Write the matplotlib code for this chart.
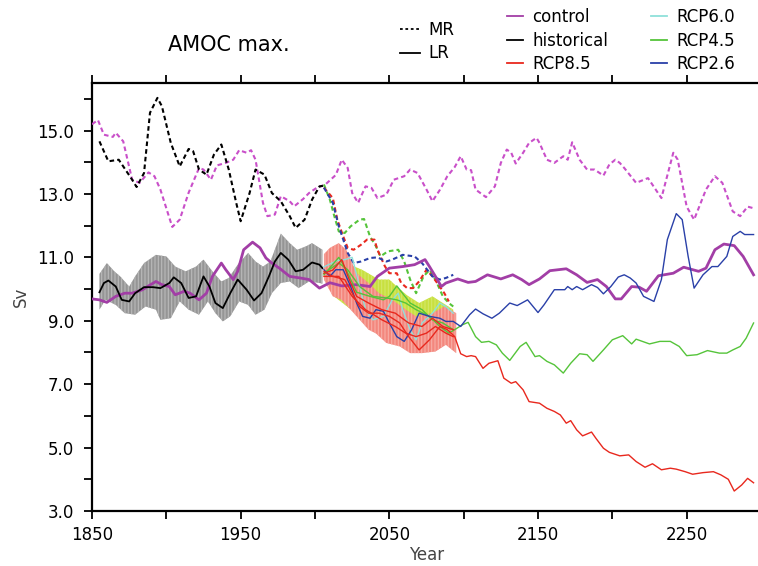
import matplotlib
matplotlib.use("Agg")
from matplotlib import pyplot as plt
from matplotlib.lines import Line2D
from matplotlib.ticker import MultipleLocator, FormatStrFormatter

# ---- data (years, Sv) ----
ctrl_mr_years = [1850, 1854, 1858, 1864, 1866, 1871, 1877, 1882, 1888, 1892, 1896, 1901, 1904, 1909, 1915,
                 1922, 1925, 1930, 1934, 1940, 1945, 1949, 1954, 1957, 1960, 1965, 1968, 1973, 1977, 1983,
                 1986, 1992, 1996, 2001, 2007, 2014, 2018, 2022, 2025, 2029, 2034, 2038, 2042, 2048, 2053,
                 2060, 2064, 2069, 2075, 2079, 2084, 2089, 2094, 2098, 2102, 2105, 2108, 2115, 2121, 2125,
                 2129, 2132, 2135, 2140, 2144, 2149, 2151, 2156, 2161, 2167, 2170, 2173, 2178, 2183, 2188,
                 2194, 2198, 2202, 2205, 2208, 2216, 2224, 2233, 2241, 2244, 2250, 2255, 2263, 2269, 2274,
                 2281, 2286, 2291, 2295]
ctrl_mr = [15.2, 15.33, 14.87, 14.8, 14.93, 14.66, 13.45, 13.35, 13.68, 13.56, 13.14, 12.4, 11.96, 12.19, 13.04,
           13.82, 13.77, 13.45, 13.9, 13.98, 14.08, 14.38, 14.3, 14.38, 14.08, 12.72, 12.3, 12.35, 12.93, 12.77,
           12.61, 12.84, 13.03, 13.19, 13.3, 13.6, 14.08, 13.82, 13.03, 12.72, 13.24, 13.19, 12.87, 12.98, 13.45,
           13.56, 13.77, 13.66, 13.14, 12.77, 13.13, 13.56, 13.85, 14.19, 13.77, 13.75, 13.14, 12.9, 13.24, 13.98,
           14.4, 14.3, 13.96, 14.3, 14.61, 14.77, 14.61, 14.08, 13.98, 14.19, 14.08, 14.63, 14.08, 13.77, 13.77,
           13.58, 13.93, 14.08, 13.98, 13.82, 13.35, 13.5, 12.87, 14.3, 14.08, 12.6, 12.19, 13.14, 13.56, 13.35,
           12.45, 12.3, 12.6, 12.55]

hist_mr_years = [1855, 1861, 1868, 1877, 1880, 1885, 1889, 1894, 1897, 1903, 1909, 1915, 1918, 1922, 1927,
                 1932, 1937, 1942, 1947, 1950, 1956, 1960, 1966, 1971, 1977, 1983, 1987, 1993, 1998, 2003, 2006]
hist_mr = [14.66, 14.03, 14.08, 13.45, 13.22, 13.66, 15.56, 16.03, 15.77, 14.61, 13.87, 14.42, 14.35, 13.77, 13.61,
           14.24, 14.56, 13.77, 12.72, 12.14, 13.03, 13.77, 13.61, 13.03, 12.77, 12.3, 11.93, 12.19, 12.82, 13.24, 13.26]

rcp45_mr_years = [2006, 2010, 2013, 2016, 2020, 2024, 2030, 2033, 2037, 2041, 2044, 2049, 2056, 2060, 2064,
                  2068, 2073, 2077, 2081, 2086, 2090, 2093]
rcp45_mr = [13.3, 12.82, 12.3, 11.82, 11.77, 11.98, 12.19, 12.21, 11.66, 11.35, 11.03, 11.19, 11.24, 10.87, 10.3,
            9.87, 10.4, 10.6, 10.3, 9.77, 9.56, 9.45]
rcp26_mr_years = [2006, 2012, 2016, 2019, 2022, 2026, 2031, 2037, 2042, 2048, 2052, 2059, 2067, 2072, 2079,
                  2084, 2088, 2093]
rcp26_mr = [13.2, 12.72, 11.98, 11.56, 11.14, 10.82, 10.87, 10.98, 11.0, 10.87, 10.93, 11.08, 11.03, 10.82, 10.4,
            10.3, 10.35, 10.45]
rcp85_mr_years = [2006, 2012, 2015, 2019, 2022, 2026, 2031, 2035, 2040, 2042, 2047, 2050, 2055, 2058, 2062,
                  2066, 2070, 2075, 2079, 2083, 2087, 2090]
rcp85_mr = [13.2, 12.87, 12.19, 11.66, 11.3, 11.24, 11.4, 11.56, 11.56, 11.24, 10.72, 10.5, 10.5, 10.19, 10.03,
            10.03, 10.24, 10.61, 10.4, 10.14, 9.87, 9.61]

hist_lr_years = [1855, 1858, 1861, 1866, 1870, 1875, 1879, 1885, 1891, 1896, 1902, 1905, 1910, 1915, 1920,
                 1925, 1929, 1933, 1938, 1943, 1948, 1954, 1959, 1964, 1969, 1973, 1977, 1982, 1987, 1992,
                 1998, 2003, 2005]
hist_lr = [9.9, 10.19, 10.27, 10.08, 9.66, 9.61, 9.87, 10.06, 10.06, 10.03, 10.19, 10.37, 10.19, 9.72, 9.77,
           10.4, 10.08, 9.56, 9.4, 9.87, 10.3, 9.98, 9.64, 9.87, 10.4, 10.87, 11.14, 10.93, 10.56, 10.61,
           10.84, 10.77, 10.66]

hist_hi_years = [1855, 1860, 1865, 1869, 1875, 1879, 1885, 1893, 1900, 1906, 1913, 1920, 1925, 1931, 1937,
                 1942, 1948, 1955, 1960, 1965, 1970, 1977, 1983, 1988, 1994, 1998, 2005]
hist_hi = [10.48, 10.82, 10.56, 10.4, 10.08, 10.4, 10.82, 11.08, 11.03, 10.71, 10.56, 10.71, 10.93, 10.56, 10.24,
           10.35, 10.77, 11.14, 10.87, 10.71, 10.87, 11.75, 11.45, 11.24, 11.35, 11.45, 11.24]
hist_lo_years = [1855, 1859, 1866, 1872, 1879, 1886, 1893, 1896, 1903, 1909, 1915, 1922, 1928, 1933, 1938,
                 1943, 1949, 1955, 1960, 1966, 1971, 1977, 1983, 1989, 1996, 2003, 2005]
hist_lo = [9.35, 9.66, 9.5, 9.24, 9.19, 9.45, 9.35, 9.03, 9.08, 9.61, 9.35, 9.19, 9.61, 9.24, 8.98,
           9.14, 9.61, 9.5, 9.19, 9.35, 9.87, 10.19, 10.24, 10.03, 10.24, 10.19, 10.17]

rcp85_hi_years = [2006, 2010, 2016, 2021, 2028, 2036, 2043, 2052, 2061, 2068, 2079, 2087, 2095]
rcp85_hi = [11.1, 11.3, 11.45, 11.24, 10.5, 10.19, 9.87, 9.66, 9.35, 9.14, 9.24, 9.45, 9.24]
rcp85_lo_years = [2006, 2012, 2018, 2024, 2028, 2036, 2041, 2048, 2057, 2064, 2072, 2081, 2088, 2095]
rcp85_lo = [10.3, 9.77, 9.66, 9.35, 9.14, 8.72, 8.6, 8.3, 8.19, 7.98, 7.98, 8.03, 8.24, 7.98]

rcp45_hi_years = [2012, 2022, 2032, 2043, 2050, 2055, 2062, 2070, 2079, 2086, 2093]
rcp45_hi = [10.6, 10.8, 10.6, 10.3, 10.3, 10.08, 9.8, 9.56, 9.77, 9.56, 9.35]
rcp45_lo_years = [2012, 2023, 2032, 2042, 2050, 2057, 2064, 2070, 2077, 2088, 2093]
rcp45_lo = [9.8, 9.4, 9.1, 8.95, 8.85, 8.75, 8.72, 8.7, 8.82, 8.4, 8.45]

ctrl_lr_years = [1850, 1855, 1860, 1866, 1872, 1877, 1884, 1888, 1893, 1897, 1902, 1906, 1912, 1916, 1922,
                 1927, 1931, 1937, 1940, 1945, 1948, 1952, 1958, 1963, 1967, 1971, 1976, 1983, 1990, 1996,
                 2003, 2010, 2018, 2028, 2037, 2042, 2050, 2059, 2067, 2074, 2077, 2081, 2085, 2088, 2096,
                 2103, 2108, 2116, 2125, 2133, 2139, 2144, 2151, 2158, 2169, 2176, 2183, 2190, 2196, 2202,
                 2206, 2213, 2218, 2223, 2231, 2241, 2248, 2258, 2263, 2269, 2275, 2282, 2288, 2295]
ctrl_lr = [9.69, 9.66, 9.58, 9.77, 9.87, 9.87, 9.98, 10.1, 10.24, 10.14, 10.08, 9.82, 9.93, 9.87, 9.66,
           9.87, 10.4, 10.82, 10.61, 10.3, 10.56, 11.24, 11.48, 11.3, 10.98, 10.82, 10.66, 10.4, 10.35, 10.3,
           10.03, 10.2, 10.1, 10.14, 10.08, 10.4, 10.66, 10.71, 10.77, 10.93, 10.71, 10.4, 10.08, 10.19, 10.32,
           10.21, 10.24, 10.45, 10.32, 10.45, 10.3, 10.14, 10.32, 10.58, 10.64, 10.45, 10.21, 10.3, 10.08, 9.69,
           9.69, 10.08, 10.06, 9.93, 10.42, 10.5, 10.69, 10.56, 10.66, 11.24, 11.42, 11.37, 11.03, 10.45]

# RCP LR members (the first of each scenario continues to 2300)
rcp85_a_years = [2006, 2012, 2020, 2025, 2030, 2036, 2043, 2050, 2057, 2063, 2070, 2077, 2084, 2089, 2094,
                 2098, 2102, 2105, 2108, 2113, 2117, 2123, 2127, 2132, 2135, 2140, 2144, 2151, 2156, 2161,
                 2165, 2169, 2172, 2176, 2180, 2186, 2189, 2194, 2198, 2205, 2211, 2216, 2222, 2227, 2233,
                 2239, 2243, 2249, 2254, 2261, 2268, 2273, 2278, 2282, 2287, 2291, 2295]
rcp85_a = [10.56, 10.4, 10.3, 9.87, 9.45, 9.24, 9.24, 9.14, 8.93, 8.5, 8.08, 8.4, 8.82, 8.72, 8.5,
           7.96, 7.87, 7.9, 7.87, 7.5, 7.66, 7.74, 7.19, 7.03, 7.08, 6.82, 6.45, 6.4, 6.24, 6.14,
           6.03, 5.77, 5.85, 5.56, 5.37, 5.49, 5.29, 4.98, 4.85, 4.74, 4.77, 4.56, 4.38, 4.49, 4.3,
           4.35, 4.32, 4.24, 4.16, 4.21, 4.24, 4.14, 4.0, 3.63, 3.82, 4.03, 3.89]
rcp85_b_years = [2006, 2012, 2018, 2023, 2028, 2036, 2045, 2054, 2063, 2072, 2079, 2086, 2093]
rcp85_b = [10.5, 10.6, 10.93, 10.3, 9.77, 9.56, 9.35, 9.24, 8.93, 8.82, 9.08, 8.82, 8.72]
rcp85_c_years = [2006, 2016, 2025, 2034, 2045, 2054, 2061, 2068, 2075, 2081, 2088, 2093]
rcp85_c = [10.4, 10.4, 9.77, 9.35, 9.03, 8.82, 8.61, 8.5, 8.61, 8.82, 8.61, 8.5]

rcp45_a_years = [2006, 2016, 2022, 2030, 2039, 2048, 2055, 2061, 2068, 2077, 2084, 2090, 2094, 2099, 2103,
                 2108, 2112, 2117, 2122, 2126, 2131, 2138, 2142, 2148, 2151, 2156, 2161, 2167, 2172, 2178,
                 2183, 2187, 2194, 2200, 2207, 2213, 2216, 2225, 2232, 2239, 2245, 2250, 2257, 2264, 2272,
                 2277, 2281, 2286, 2290, 2295]
rcp45_a = [10.5, 10.82, 10.61, 10.08, 9.77, 9.72, 9.66, 9.56, 9.35, 9.14, 8.82, 8.61, 8.72, 8.87, 8.95,
           8.5, 8.32, 8.35, 8.24, 7.98, 7.75, 8.19, 8.32, 7.87, 7.9, 7.72, 7.61, 7.35, 7.66, 7.96,
           7.93, 7.72, 8.08, 8.4, 8.53, 8.27, 8.42, 8.27, 8.35, 8.35, 8.19, 7.9, 7.93, 8.06, 7.98,
           7.98, 8.08, 8.19, 8.45, 8.93]
rcp45_b_years = [2006, 2016, 2021, 2028, 2037, 2046, 2050, 2055, 2064, 2072, 2079, 2086, 2093]
rcp45_b = [10.45, 11.0, 10.61, 9.9, 9.77, 9.66, 9.77, 10.1, 9.56, 9.35, 9.03, 8.93, 8.72]

rcp26_years = [2006, 2010, 2014, 2019, 2024, 2028, 2032, 2037, 2041, 2046, 2050, 2055, 2060, 2065, 2070,
               2077, 2084, 2088, 2093, 2098, 2104, 2108, 2113, 2119, 2124, 2131, 2136, 2143, 2150, 2154,
               2161, 2168, 2170, 2173, 2176, 2180, 2186, 2190, 2194, 2199, 2204, 2208, 2212, 2216, 2221,
               2228, 2233, 2237, 2243, 2247, 2251, 2255, 2261, 2267, 2271, 2277, 2281, 2286, 2289, 2295]
rcp26 = [10.61, 10.4, 10.61, 10.61, 10.08, 9.56, 9.14, 9.08, 9.35, 9.3, 8.93, 8.5, 8.35, 8.72, 9.24,
         9.14, 9.08, 8.98, 8.98, 8.82, 9.19, 9.37, 9.22, 9.08, 9.24, 9.56, 9.48, 9.66, 9.26, 9.5,
         9.98, 9.98, 10.08, 9.98, 10.08, 9.98, 10.14, 10.05, 9.85, 10.08, 10.38, 10.45, 10.35, 10.19, 9.77,
         9.61, 10.3, 11.56, 12.38, 12.19, 11.03, 10.03, 10.45, 10.71, 10.71, 11.03, 11.66, 11.82, 11.72, 11.72]

rcp60_years = [2006, 2015, 2020, 2025, 2030, 2034, 2039, 2046, 2052, 2056, 2059, 2064, 2068, 2072, 2079,
               2084, 2088, 2093]
rcp60 = [10.7, 10.9, 10.93, 11.0, 10.08, 9.35, 9.03, 9.14, 9.66, 9.87, 9.35, 8.72, 8.4, 8.93, 9.24,
         9.56, 9.45, 9.24]

# colours
c_ctrl = "#a23ea6"
c_ctrl_mr = "#c94fc9"
c_85 = "#e8281e"
c_60 = "#8fe0da"
c_45 = "#55c43a"
c_26 = "#2a40a8"

plt.rcParams.update({'font.family': 'DejaVu Sans', 'font.size': 12, 'hatch.linewidth': 0.8})
fig = plt.figure(figsize=(7.58, 5.66), dpi=100)
ax = fig.add_axes([92 / 758, 1 - 511 / 566, 669 / 758, 428 / 566])


def band(xs_hi, hi, xs_lo, lo, face, hatch_col):
    ax.fill(list(xs_hi) + list(xs_lo)[::-1], list(hi) + list(lo)[::-1],
            facecolor=face, edgecolor=hatch_col, hatch='|||||', linewidth=0, zorder=1)


band(hist_hi_years, hist_hi, hist_lo_years, hist_lo, "#959595", "#b9b9b9")
band(rcp45_hi_years, rcp45_hi, rcp45_lo_years, rcp45_lo, "#c8e040", "#d4e868")
band(rcp85_hi_years, rcp85_hi, rcp85_lo_years, rcp85_lo, "#f3877d", "#f8aea6")

dash = (2.2, 1.5)
ax.plot(ctrl_mr_years, ctrl_mr, color=c_ctrl_mr, lw=1.5, dashes=dash, zorder=3)
ax.plot(hist_mr_years, hist_mr, color="black", lw=1.5, dashes=dash, zorder=3)
ax.plot(rcp45_mr_years, rcp45_mr, color=c_45, lw=1.5, dashes=dash, zorder=3)
ax.plot(rcp85_mr_years, rcp85_mr, color=c_85, lw=1.5, dashes=dash, zorder=3)
ax.plot(rcp26_mr_years, rcp26_mr, color=c_26, lw=1.5, dashes=dash, zorder=3)

ax.plot(ctrl_lr_years, ctrl_lr, color=c_ctrl, lw=2.0, zorder=4)
ax.plot(hist_lr_years, hist_lr, color="black", lw=1.3, zorder=4)
ax.plot(rcp60_years, rcp60, color=c_60, lw=1.0, zorder=4)
ax.plot(rcp45_b_years, rcp45_b, color=c_45, lw=1.0, zorder=4)
ax.plot(rcp45_a_years, rcp45_a, color=c_45, lw=1.0, zorder=4)
ax.plot(rcp26_years, rcp26, color=c_26, lw=1.0, zorder=4)
ax.plot(rcp85_b_years, rcp85_b, color=c_85, lw=1.0, zorder=4)
ax.plot(rcp85_c_years, rcp85_c, color=c_85, lw=1.0, zorder=4)
ax.plot(rcp85_a_years, rcp85_a, color=c_85, lw=1.0, zorder=4)

# axes
ax.set_xlim(1850, 2300)
ax.set_ylim(3.0, 16.5)
ax.xaxis.set_major_locator(MultipleLocator(100, offset=50))
ax.xaxis.set_minor_locator(MultipleLocator(50))
ax.yaxis.set_major_locator(MultipleLocator(2, offset=1))
ax.yaxis.set_minor_locator(MultipleLocator(1))
ax.yaxis.set_major_formatter(FormatStrFormatter('%.1f'))
ax.tick_params(which='both', direction='out', length=6, width=1.3, top=True, right=False)
ax.tick_params(axis='y', pad=7)
ax.tick_params(axis='x', pad=5)
for s in ax.spines.values():
    s.set_linewidth(1.6)
ax.set_xlabel("Year", fontsize=12, color="#444444", labelpad=1)
ax.set_ylabel("Sv", fontsize=12, color="#444444", labelpad=5)

fig.text(0.302, 1 - 45 / 566, "AMOC max.", fontsize=15, ha='center', va='center')

# legends
h_mr = [Line2D([], [], color='black', lw=1.3, dashes=(1.5, 1.5)),
        Line2D([], [], color='black', lw=1.3)]
leg1 = fig.legend(h_mr, ["MR", "LR"], loc='upper left', bbox_to_anchor=(400 / 758, 1 - 21 / 566),
                  frameon=False, borderpad=0, borderaxespad=0, handlelength=1.2, handletextpad=0.48,
                  labelspacing=0.33, fontsize=12)
names = ["control", "historical", "RCP8.5", "RCP6.0", "RCP4.5", "RCP2.6"]
cols = [c_ctrl, "black", c_85, c_60, c_45, c_26]
h_sc = [Line2D([], [], color=c, lw=1.3) for c in cols]
leg2 = fig.legend(h_sc, names, loc='upper left', bbox_to_anchor=(507 / 758, 1 - 8 / 566), ncol=2,
                  frameon=False, borderpad=0, borderaxespad=0, handlelength=0.96, handletextpad=0.55,
                  labelspacing=0.33, columnspacing=2.6, fontsize=12)

fig.savefig("out.png", dpi=100)
